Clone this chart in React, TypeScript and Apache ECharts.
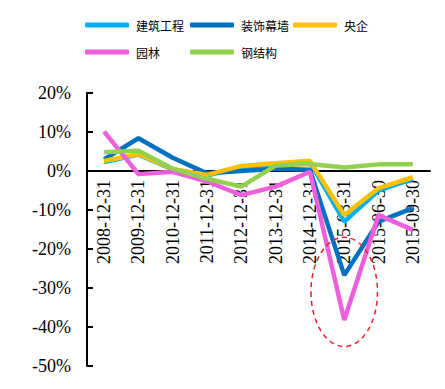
import React, { useEffect, useRef } from "react";
import * as echarts from "echarts";

const categories = [
  "2008-12-31", "2009-12-31", "2010-12-31", "2011-12-31", "2012-12-31",
  "2013-12-31", "2014-12-31", "2015-03-31", "2015-06-30", "2015-09-30",
];
const seriesNames = ["建筑工程", "装饰幕墙", "央企", "园林", "钢结构"];
const construction = [2.3, 4.2, 0.4, -1.2, 1.0, 1.6, 2.3, -13.0, -5.0, -2.0];
const decoration = [3.0, 8.4, 3.4, -0.6, 0.0, 0.6, 0.3, -26.7, -13.0, -9.5];
const soe = [2.6, 4.3, 0.5, -1.0, 1.3, 2.0, 2.6, -11.3, -4.4, -1.6];
const garden = [10.1, -0.8, -0.2, -2.7, -6.2, -4.0, -0.2, -38.2, -11.3, -15.1];
const steel = [4.8, 5.2, 0.6, -2.0, -4.0, 1.4, 1.8, 0.9, 1.7, 1.7];
const seriesColors = ["#00B0F0", "#0070C0", "#FFC000", "#EE5FDC", "#92D050"];
const yTicks = { min: -50, max: 20, interval: 10 };

export default function App() {
  const ref = useRef<HTMLDivElement>(null);
  useEffect(() => {
    if (!ref.current) return;
    const chart = echarts.init(ref.current, undefined, { renderer: "svg" });
    const data = [construction, decoration, soe, garden, steel];
    const legendPos = [
      { left: 85, top: 19 },
      { left: 190, top: 19 },
      { left: 293, top: 19 },
      { left: 85, top: 46 },
      { left: 190, top: 46 },
    ];
    const legends = seriesNames.map((n, i) => ({
      data: [n],
      left: legendPos[i].left,
      top: legendPos[i].top,
      itemWidth: 44,
      itemHeight: 5,
      itemGap: 0,
      icon: "roundRect",
      textStyle: { fontFamily: "Noto Sans CJK SC", fontSize: 12, color: "#000", padding: [0, 0, 0, 2] },
      padding: 0,
    }));
    const xAxisBase = {
      type: "category",
      data: categories,
      boundaryGap: true,
      position: "bottom",
      axisLine: { onZero: false, lineStyle: { color: "#000", width: 2 } },
      axisTick: { show: false },
      axisLabel: {
        rotate: 90,
        interval: 0,
        margin: 9,
        fontFamily: "Liberation Serif",
        fontSize: 18,
        color: "#000",
      },
    };
    chart.setOption({
      animation: false,
      backgroundColor: "#fff",
      legend: legends,
      grid: { left: 87, right: 15, top: 93, bottom: 23, containLabel: false, outerBoundsMode: "none" },
      xAxis: { ...xAxisBase, offset: 0 },
      yAxis: {
        type: "value",
        min: yTicks.min,
        max: yTicks.max,
        interval: yTicks.interval,
        splitLine: { show: false },
        axisLine: { show: true, onZero: false, lineStyle: { color: "#000", width: 2 } },
        axisTick: { show: true, inside: true, length: 6, lineStyle: { color: "#000", width: 2 } },
        axisLabel: {
          formatter: "{value}%",
          margin: 16,
          fontFamily: "Liberation Serif",
          fontSize: 18,
          color: "#000",
        },
      },
      series: seriesNames.map((n, i) => ({
        name: n,
        type: "line",
        data: data[i],
        symbol: "none",
        color: seriesColors[i],
        lineStyle: { width: 4.5, color: seriesColors[i] },
        z: 2 + i,
      })),
    });
    const zeroY = (chart.convertToPixel({ yAxisIndex: 0 }, 0) as number);
    const bottomY = (chart.convertToPixel({ yAxisIndex: 0 }, yTicks.min) as number);
    const c = chart.convertToPixel({ xAxisIndex: 0, yAxisIndex: 0 }, ["2015-03-31", -31]) as number[];
    const a = chart.convertToPixel({ xAxisIndex: 0, yAxisIndex: 0 }, ["2015-06-30", -17]) as number[];
    chart.setOption({
      xAxis: { offset: -(bottomY - zeroY) },
      graphic: [
        {
          type: "ellipse",
          shape: { cx: c[0], cy: c[1], rx: (a[0] - c[0]) * 0.97, ry: a[1] - c[1] },
          style: { fill: "none", stroke: "#E0202A", lineWidth: 1.5, lineDash: [5, 4] },
          z: 100,
        },
      ],
    });
    return () => chart.dispose();
  }, []);
  return (
    <div
      ref={ref}
      style={{ position: "fixed", left: 0, top: 0, width: 445, height: 389 }}
    />
  );
}
